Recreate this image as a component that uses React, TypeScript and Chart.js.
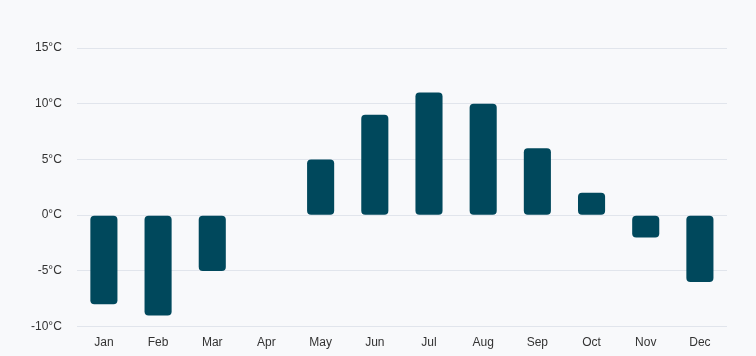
import React, { useEffect, useRef } from "react";
import { Chart, registerables } from "chart.js";

Chart.register(...registerables);

const months = ["Jan", "Feb", "Mar", "Apr", "May", "Jun", "Jul", "Aug", "Sep", "Oct", "Nov", "Dec"];
const temperatures = [-8, -9, -5, 0, 5, 9, 11, 10, 6, 2, -2, -6];
const yMin = -10;
const yMax = 15;
const yStep = 5;

export default function App() {
  const ref = useRef<HTMLCanvasElement>(null);
  useEffect(() => {
    document.body.style.margin = "0";
    document.body.style.background = "#f8f9fb";
    const ctx = ref.current!;
    const chart = new Chart(ctx, {
      type: "bar",
      data: {
        labels: months,
        datasets: [
          {
            data: temperatures,
            backgroundColor: "#00485c",
            borderRadius: 4,
            borderSkipped: false,
            barPercentage: 0.5,
            categoryPercentage: 1,
          },
        ],
      },
      options: {
        animation: false,
        responsive: false,
        maintainAspectRatio: false,
        layout: { padding: { top: 48, right: 29, left: 16, bottom: -3 } },
        plugins: { legend: { display: false }, tooltip: { enabled: false } },
        scales: {
          x: {
            grid: { display: false, drawTicks: false },
            border: { display: false },
            ticks: {
              color: "#333333",
              padding: 9,
              font: { family: "Liberation Sans, Arial", size: 12 },
            },
          },
          y: {
            min: yMin,
            max: yMax,
            grid: { color: "#e1e5ec", drawTicks: false },
            border: { display: false },
            ticks: {
              stepSize: yStep,
              padding: 15,
              color: "#333333",
              font: { family: "Liberation Sans, Arial", size: 12 },
              callback: (v: any) => `${v}°C`,
            },
          },
        },
      },
    });
    return () => chart.destroy();
  }, []);
  return (
    <div style={{ width: 756, height: 356, background: "#f8f9fb" }}>
      <canvas ref={ref} width={756} height={356} style={{ display: "block" }} />
    </div>
  );
}
